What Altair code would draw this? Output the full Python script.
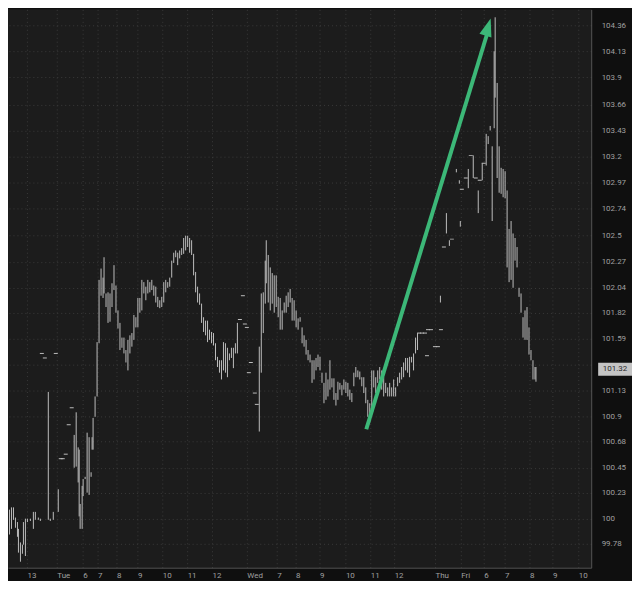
import altair as alt
import pandas as pd

# ---- OHLC-style bars (bar index position, high, low) ----
bar_x = [1, 3, 5, 7, 9, 11, 13, 15, 17, 18, 20, 22, 23, 25, 27, 30, 33, 35, 38, 40,
         48, 50, 53, 58, 74, 76, 78, 79, 80, 82, 83, 85, 87, 89, 91, 92, 93, 95, 97, 99,
         101, 103, 104, 106, 108, 110, 112, 114, 116, 118, 120, 122, 124, 126, 128, 130, 132, 134, 136, 138,
         140, 142, 144, 146, 148, 150, 152, 154, 156, 158, 160, 162, 164, 166, 168, 170, 172, 174, 176, 178,
         180, 182, 184, 186, 188, 190, 192, 194, 196, 198, 200, 202, 204, 206, 208, 210, 212, 214, 216, 218,
         220, 222, 224, 226, 228, 230, 232, 234, 236, 238, 260, 262, 264, 266, 267, 269, 271, 273, 275, 277,
         279, 281, 283, 285, 287, 289, 291, 293, 295, 297, 299, 301, 303, 305, 307, 309, 311, 313, 315, 317,
         319, 321, 323, 325, 327, 329, 331, 333, 335, 337, 339, 341, 343, 345, 347, 349, 351, 353, 355, 357,
         359, 361, 363, 365, 367, 369, 371, 373, 375, 377, 379, 381, 383, 385, 387, 389, 391, 393, 395, 397,
         399, 401, 403, 405, 407, 409, 411, 413, 415, 417, 419, 442, 448, 451, 458, 461, 462, 470, 475, 480,
         484, 488, 490, 492, 494, 496, 497, 499, 501, 503, 505, 507, 509, 511, 513, 515, 517, 519, 521, 523,
         525, 527, 529, 531, 533, 535, 537, 538]
bar_high = [100.42, 100.28, 100.21, 100.13, 100.08, 100.10, 100.10, 100.01, 99.97, 99.91, 99.79, 99.77, 99.97, 100.00, 100.00, 100.00, 100.06, 100.06, 100.01, 100.00,
            101.12, 100.00, 100.06, 100.26, 100.74, 100.94, 100.63, 100.61, 100.13, 100.29, 100.35, 100.37, 100.76, 100.72, 100.41, 100.72, 100.89, 101.08, 101.56, 102.11,
            102.21, 102.13, 102.31, 101.99, 102.00, 101.99, 102.08, 102.24, 102.06, 101.84, 101.73, 101.60, 101.60, 101.49, 101.58, 101.62, 101.64, 101.80, 101.78, 101.95,
            101.95, 102.11, 102.09, 102.05, 102.11, 102.09, 102.11, 102.06, 102.05, 101.96, 101.93, 101.96, 102.09, 102.11, 102.09, 102.13, 102.28, 102.35, 102.37, 102.35,
            102.37, 102.39, 102.48, 102.50, 102.50, 102.48, 102.46, 102.34, 102.18, 102.05, 101.99, 101.90, 101.78, 101.75, 101.75, 101.67, 101.65, 101.64, 101.55, 101.43,
            101.40, 101.40, 101.56, 101.55, 101.51, 101.46, 101.51, 101.51, 101.55, 101.73, 101.52, 101.99, 102.00, 102.28, 102.46, 102.33, 102.22, 102.17, 102.15, 102.15,
            101.96, 101.95, 101.84, 101.91, 101.97, 102.00, 102.03, 101.95, 101.93, 101.84, 101.77, 101.78, 101.69, 101.62, 101.58, 101.49, 101.45, 101.40, 101.40, 101.42,
            101.45, 101.43, 101.29, 101.20, 101.29, 101.23, 101.40, 101.24, 101.24, 101.11, 101.21, 101.20, 101.18, 101.23, 101.21, 101.20, 101.14, 101.11, 101.29, 101.34,
            101.31, 101.30, 101.25, 101.25, 101.16, 101.05, 101.02, 101.31, 101.31, 101.25, 101.31, 101.34, 101.31, 101.25, 101.20, 101.16, 101.20, 101.16, 101.23, 101.16,
            101.25, 101.29, 101.34, 101.38, 101.42, 101.42, 101.43, 101.43, 101.46, 101.60, 101.64, 101.97, 102.70, 102.46, 103.09, 102.99, 102.63, 103.09, 103.21, 102.90,
            103.14, 103.40, 103.38, 103.47, 103.29, 104.13, 104.43, 103.85, 103.29, 103.10, 103.09, 103.07, 102.90, 102.56, 102.63, 102.52, 102.48, 102.40, 102.04, 101.99,
            101.78, 101.84, 101.87, 101.69, 101.49, 101.40, 101.34, 101.34]
bar_low = [100.13, 99.99, 99.99, 99.82, 99.86, 99.91, 99.99, 99.92, 99.84, 99.70, 99.62, 99.69, 99.77, 99.67, 99.97, 99.98, 99.91, 99.99, 99.99, 99.98,
           99.99, 99.98, 99.99, 100.06, 100.45, 100.46, 100.32, 100.02, 99.91, 99.91, 100.20, 100.35, 100.23, 100.21, 100.37, 100.61, 100.61, 100.90, 101.08, 101.55,
           101.97, 101.95, 101.99, 101.87, 101.73, 101.74, 101.87, 102.02, 101.82, 101.68, 101.49, 101.51, 101.46, 101.38, 101.31, 101.46, 101.52, 101.58, 101.69, 101.69,
           101.82, 101.84, 101.99, 101.93, 101.99, 102.00, 102.02, 101.97, 101.91, 101.87, 101.86, 101.87, 101.91, 102.00, 102.04, 102.05, 102.13, 102.26, 102.31, 102.24,
           102.30, 102.33, 102.34, 102.37, 102.40, 102.35, 102.33, 102.15, 102.00, 101.91, 101.89, 101.73, 101.65, 101.62, 101.56, 101.58, 101.55, 101.53, 101.40, 101.34,
           101.29, 101.23, 101.31, 101.29, 101.25, 101.40, 101.42, 101.33, 101.46, 101.46, 100.77, 101.29, 101.64, 101.90, 102.08, 101.91, 101.84, 101.90, 101.82, 101.87,
           101.78, 101.67, 101.67, 101.82, 101.82, 101.87, 101.91, 101.75, 101.75, 101.69, 101.67, 101.74, 101.55, 101.52, 101.45, 101.40, 101.38, 101.20, 101.23, 101.31,
           101.34, 101.31, 101.20, 101.02, 101.05, 101.08, 101.14, 101.16, 101.05, 101.00, 101.05, 101.14, 101.09, 101.14, 101.11, 101.08, 101.05, 101.03, 101.17, 101.25,
           101.25, 101.23, 101.17, 101.11, 101.02, 100.90, 100.85, 100.96, 101.16, 101.11, 101.20, 101.23, 101.14, 101.08, 101.11, 101.08, 101.08, 101.08, 101.08, 101.08,
           101.17, 101.20, 101.23, 101.25, 101.31, 101.29, 101.25, 101.38, 101.31, 101.46, 101.49, 101.91, 102.52, 102.41, 103.06, 102.96, 102.58, 102.92, 103.01, 102.70,
           102.99, 103.12, 103.31, 103.43, 102.63, 103.45, 103.72, 103.01, 102.88, 102.87, 102.84, 102.83, 102.22, 102.09, 102.11, 102.04, 102.28, 102.22, 101.96, 101.82,
           101.60, 101.58, 101.58, 101.45, 101.40, 101.23, 101.23, 101.21]

# ---- single-price (flat) bars ----
flat_x = [42, 45, 56, 61, 63, 66, 69, 72, 241, 244, 246, 248, 250, 252, 256, 258,
          421, 424, 427, 429, 430, 433, 437, 440, 443, 446, 454, 464, 468, 473, 478, 482, 486]
flat_price = [101.46, 101.42, 101.46, 100.53, 100.53, 100.57, 100.83, 100.98, 101.76, 101.97, 101.72, 101.69, 101.29, 101.38, 101.11, 101.01,
              101.64, 101.64, 101.64, 101.44, 101.67, 101.67, 101.52, 101.52, 101.67, 102.40, 102.47, 102.91, 103.01, 103.21, 103.01, 102.99, 103.14]

# ---- axes ----
x_tick_pos = [27, 57, 83, 98, 117, 138, 163, 188, 213, 248, 278, 297, 321, 347, 372, 396, 437, 463, 486, 507, 532, 555, 581]
x_tick_lab = ["13", "Tue", "6", "7", "8", "9", "10", "11", "12", "Wed", "7", "8", "9", "10", "11", "12", "Thu", "Fri", "6", "7", "8", "9", "10"]
y_ticks = [104.36, 104.13, 103.9, 103.66, 103.43, 103.2, 102.97, 102.74, 102.5, 102.27, 102.04, 101.82, 101.59, 101.36,
           101.13, 100.9, 100.68, 100.45, 100.23, 100, 99.78, 99.55]
hidden_tick = 101.36  # covered by the last-price tag in the reference
last_price = 101.32

# ---- annotation arrow ----
arrow_x = [368, 490]
arrow_p = [100.79, 104.30]
tip_x = [493]
tip_p = [104.42]

W, H = 586, 561
X_DOM = [8, 594]
Y_DOM = [99.567, 104.50]
GREEN = "#3cb878"
BAR = "#bdbdbd"
FONT = "Roboto"

bars = pd.DataFrame({"x": bar_x, "hi": bar_high, "lo": bar_low})
flats = pd.DataFrame({"x": flat_x, "p": flat_price})
arrow = pd.DataFrame({"x": arrow_x, "p": arrow_p})
tip = pd.DataFrame({"x": tip_x, "p": tip_p})
last = pd.DataFrame({"p": [last_price], "t": [f"{last_price:.2f}"]})

lab_arr = "[" + ",".join(f"'{s}'" for s in x_tick_lab) + "]"
pos_arr = "[" + ",".join(str(v) for v in x_tick_pos) + "]"

xaxis = alt.Axis(values=x_tick_pos, labelExpr=f"{lab_arr}[indexof({pos_arr}, datum.value)]",
                 title=None, ticks=False, labelAlign="left", labelPadding=4, labelColor="#a0a0a0",
                 labelFont=FONT, labelFontSize=8, grid=True, gridColor="#3a3a3a", gridDash=[1, 3],
                 domainColor="#555555", labelFlush=False, labelOverlap=False)
yaxis = alt.Axis(values=y_ticks,
                 labelExpr=f"abs(datum.value - {hidden_tick}) < 0.001 ? '' : format(datum.value, '.2~f')",
                 orient="right", title=None, ticks=False, labelPadding=10,
                 labelColor="#a0a0a0", labelFont=FONT, labelFontSize=8, grid=True, gridColor="#3a3a3a",
                 gridDash=[1, 3], domainColor="#555555", labelOverlap=False)
xs = alt.Scale(domain=X_DOM, nice=False, zero=False)
ys = alt.Scale(domain=Y_DOM, nice=False, zero=False)

bar_layer = alt.Chart(bars).transform_filter(alt.datum.x >= X_DOM[0]).mark_rule(
    color=BAR, strokeWidth=1, xOffset=0.5, clip=True
).encode(
    x=alt.X("x:Q", scale=xs, axis=xaxis),
    y=alt.Y("hi:Q", scale=ys, axis=yaxis),
    y2="lo:Q",
)

flat_layer = alt.Chart(flats).mark_tick(
    orient="horizontal", size=4, thickness=1, color=BAR, opacity=1, clip=True
).encode(
    x=alt.X("x:Q", scale=xs, axis=xaxis),
    y=alt.Y("p:Q", scale=ys, axis=yaxis),
)

arrow_line = alt.Chart(arrow).mark_line(color=GREEN, strokeWidth=4, strokeCap="butt").encode(
    x=alt.X("x:Q", scale=xs, axis=xaxis),
    y=alt.Y("p:Q", scale=ys, axis=yaxis),
)

arrow_head = alt.Chart(tip).mark_point(
    shape="M0,0L0.35,1L-0.35,1Z", filled=True, size=1296, angle=17, color=GREEN, opacity=1, strokeWidth=0
).encode(
    x=alt.X("x:Q", scale=xs, axis=xaxis),
    y=alt.Y("p:Q", scale=ys, axis=yaxis),
)

price_box = alt.Chart(last).mark_point(
    shape="M-1,-0.38L1,-0.38L1,0.38L-1,0.38Z", filled=True, size=1156, color="#c4c4c4", opacity=1, strokeWidth=0
).encode(
    x=alt.value(W + 24),
    y=alt.Y("p:Q", scale=ys, axis=yaxis),
)

price_text = alt.Chart(last).mark_text(
    font=FONT, fontSize=8, color="#2a2a2a", align="center", baseline="middle"
).encode(
    x=alt.value(W + 24),
    y=alt.Y("p:Q", scale=ys, axis=yaxis),
    text="t:N",
)

chart = alt.layer(bar_layer, flat_layer, arrow_line, arrow_head, price_box, price_text).properties(
    width=W, height=H, padding=0, background="#0f0f0f"
).configure_view(fill="#1c1c1c", stroke=None)

chart.save("out.html", embed_options={"renderer": "svg", "actions": False})
